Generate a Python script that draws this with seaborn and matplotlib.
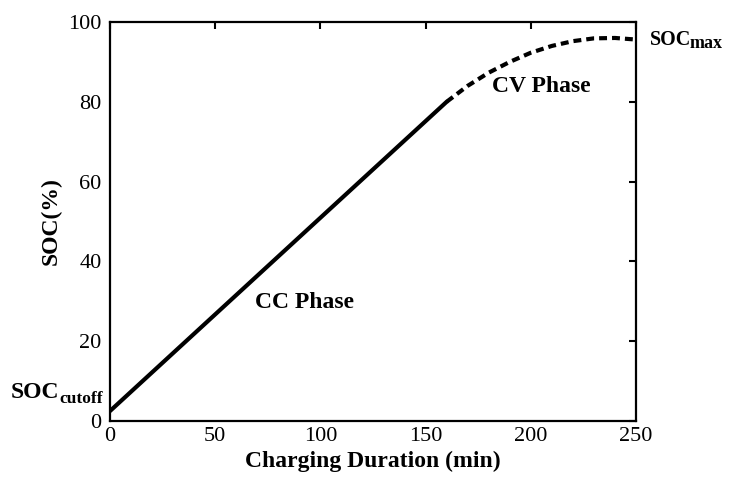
import matplotlib
matplotlib.use("Agg")
import matplotlib.pyplot as plt
import seaborn as sns
import pandas as pd

# Data
cc_time = [0, 160]
cc_soc = [2.5, 80]
cv_time = [160, 170, 180, 190, 200, 210, 220, 230, 240, 250]
cv_soc = [80, 84.0, 87.3, 90.0, 92.3, 94.0, 95.2, 95.9, 96.0, 95.6]
x_ticks = [0, 50, 100, 150, 200, 250]
y_ticks = [0, 20, 40, 60, 80, 100]

sns.set_style("white")
plt.rcParams['font.family'] = ['Liberation Serif', 'DejaVu Serif']
plt.rcParams['text.color'] = 'black'
plt.rcParams['axes.labelcolor'] = 'black'
plt.rcParams['xtick.color'] = 'black'
plt.rcParams['ytick.color'] = 'black'

W, H = 732, 482
fig = plt.figure(figsize=(W/100, H/100), dpi=100)
ax = fig.add_axes([110/W, 1-421/H, 526/W, 399/H])

cc = pd.DataFrame({"t": cc_time, "soc": cc_soc})
cv = pd.DataFrame({"t": cv_time, "soc": cv_soc})
sns.lineplot(data=cc, x="t", y="soc", ax=ax, color="black", lw=3)
sns.lineplot(data=cv, x="t", y="soc", ax=ax, color="black", lw=3,
             linestyle=(0, (1.9, 1.2)))

ax.set_xlim(0, 250)
ax.set_ylim(0, 100)
ax.set_xticks(x_ticks)
ax.set_yticks(y_ticks)
ax.tick_params(direction="in", length=5, width=1.5, top=True, right=True,
               labelsize=16)
ax.tick_params(axis="y", pad=6)
ax.tick_params(axis="x", pad=4)
for s in ax.spines.values():
    s.set_linewidth(1.6)
    s.set_color("black")

ax.set_xlabel("Charging Duration (min)", fontsize=17, fontweight="bold", labelpad=4)
ax.set_ylabel("SOC(%)", fontsize=17, fontweight="bold", labelpad=5)


def px_text(x, y, s, size):
    fig.text(x / W, 1 - y / H, s, fontsize=size, fontweight="bold",
             ha="left", va="baseline")


px_text(255, 308, "CC Phase", 17)
px_text(492, 92, "CV Phase", 17)
px_text(650, 45, "SOC", 14.5)
px_text(690, 48, "max", 13)
px_text(11, 398, "SOC", 17)
px_text(59, 403, "cutoff", 12.5)

fig.savefig("out.png", dpi=100)
